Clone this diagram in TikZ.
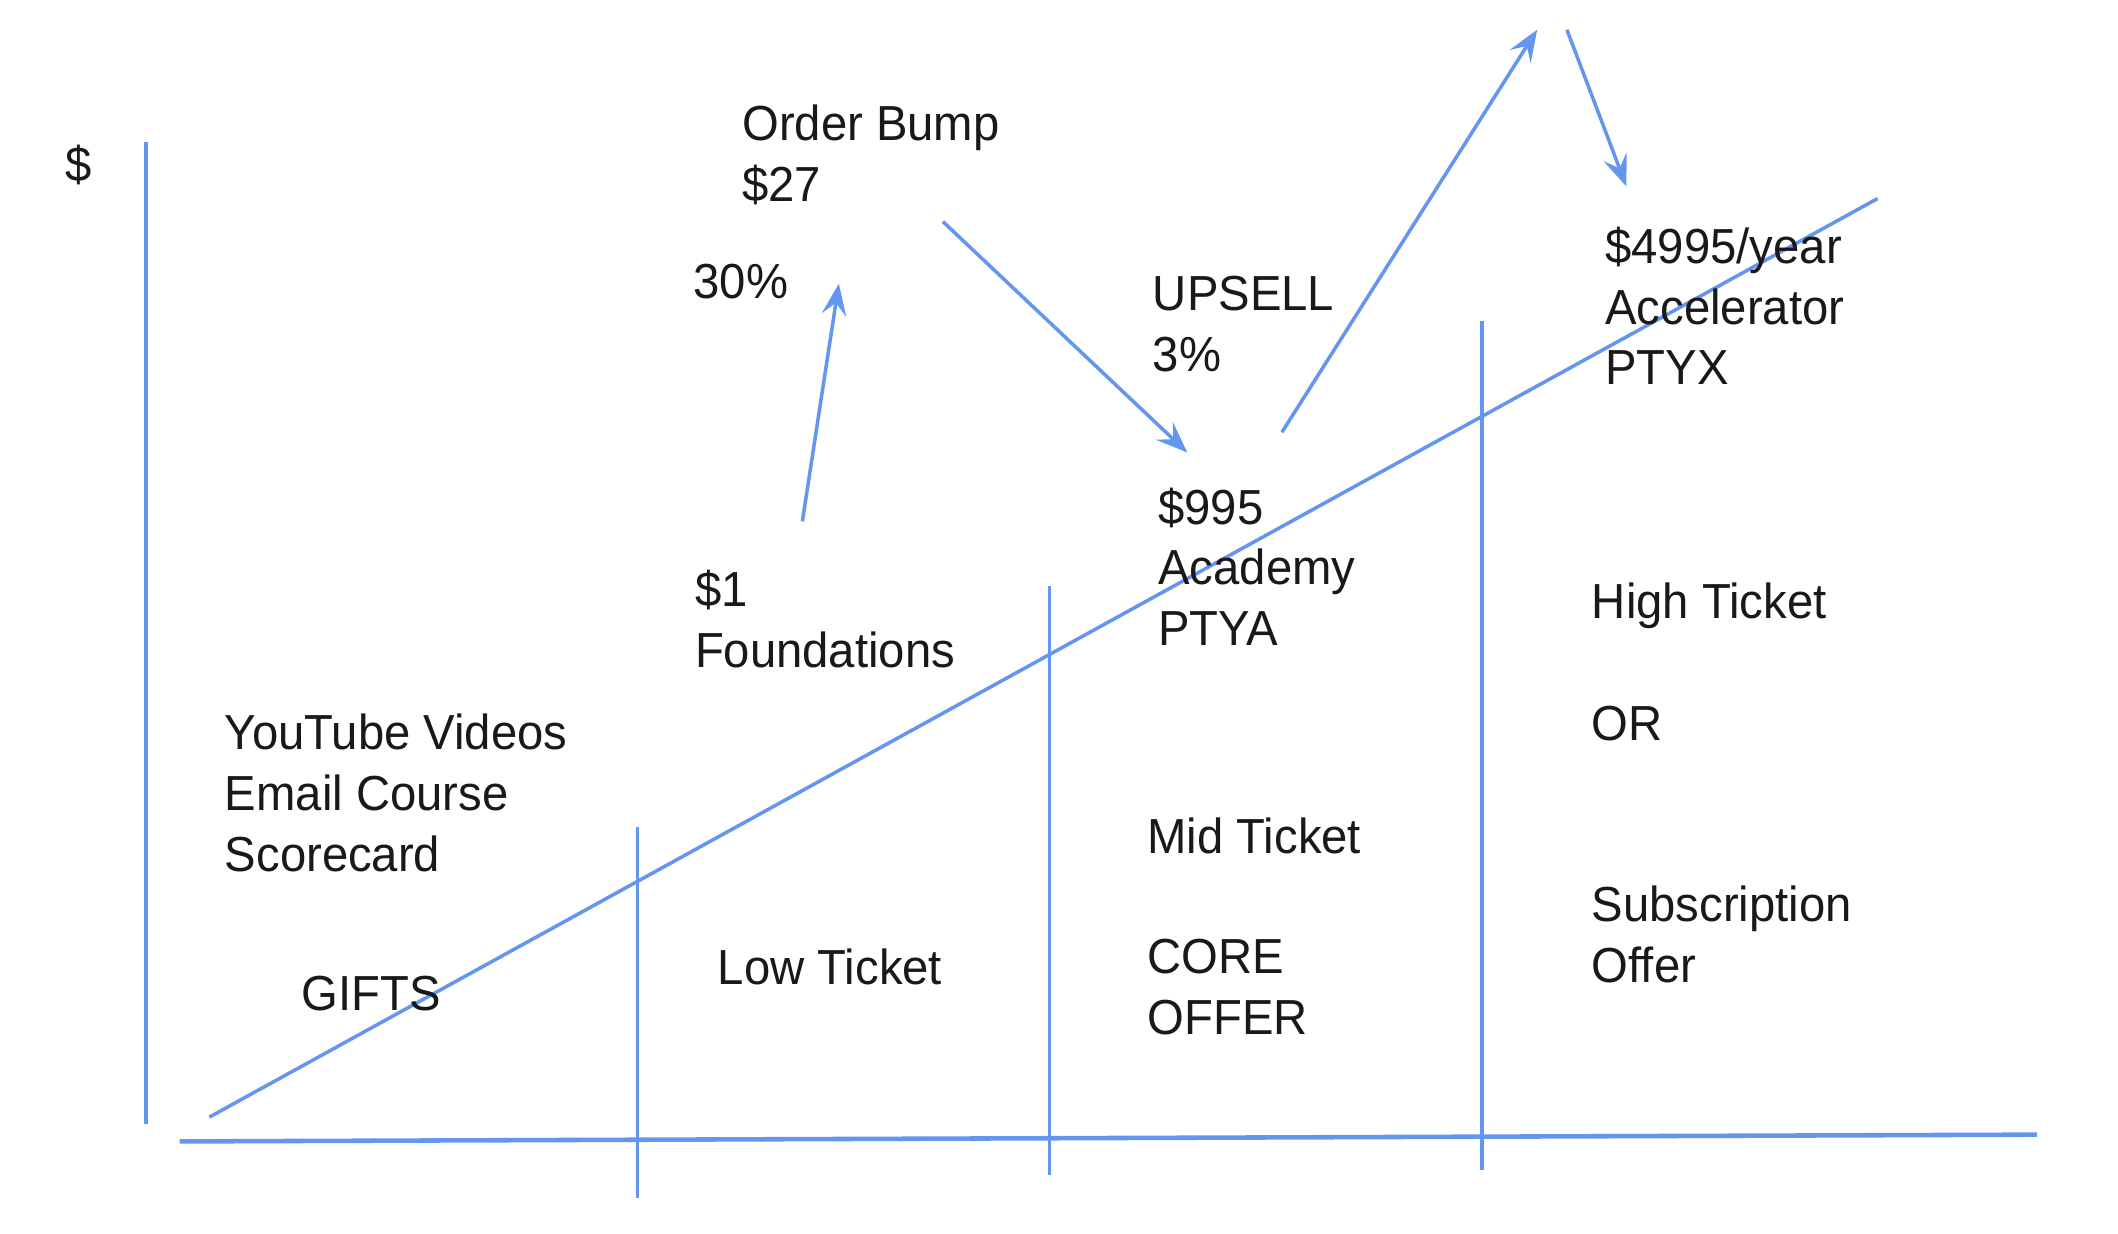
\documentclass[tikz,border=0pt]{standalone}
\usepackage{fontspec}
\setmainfont{Liberation Sans}[FakeStretch=0.96]
\usetikzlibrary{arrows.meta}
\definecolor{lb}{RGB}{100,150,240}
\definecolor{ink}{RGB}{25,25,25}
\begin{document}
\begin{tikzpicture}[x=0.013508cm,y=-0.013508cm,
  ln/.style={draw=lb,line width=1pt},
  arr/.style={ln,-{Stealth[length=9pt,width=7pt,inset=3.5pt]}},
  lbl/.style={font=\fontsize{14}{17.3}\selectfont,anchor=base west,align=left,inner sep=0pt,text=ink}]
\useasboundingbox[fill=white] (0,0) rectangle (1568,913.5);
% axes
\coordinate (yTop) at (108,105);
\coordinate (yBot) at (108,832);
\coordinate (xL) at (133,845);
\coordinate (xR) at (1508,840);
\draw[ln] (yTop) -- (yBot);
\draw[ln,line width=1.3pt] (xL) -- (xR);
% diagonal
\coordinate (dA) at (155,827);
\coordinate (dB) at (1390,147);
\draw[ln] (dA) -- (dB);
% dividers
\coordinate (v1t) at (472,612); \coordinate (v1b) at (472,887);
\coordinate (v2t) at (777,434); \coordinate (v2b) at (777,870);
\coordinate (v3t) at (1097,238); \coordinate (v3b) at (1097,866);
\draw[ln] (v1t) -- (v1b);
\draw[ln] (v2t) -- (v2b);
\draw[ln] (v3t) -- (v3b);
% arrows
\coordinate (a1s) at (594,386); \coordinate (a1e) at (621,210);
\coordinate (a2s) at (698,164); \coordinate (a2e) at (879,335);
\coordinate (a3s) at (949,320); \coordinate (a3e) at (1138,22);
\coordinate (a4s) at (1160,22); \coordinate (a4e) at (1204,138);
\draw[arr] (a1s) -- (a1e);
\draw[arr] (a2s) -- (a2e);
\draw[arr] (a3s) -- (a3e);
\draw[arr] (a4s) -- (a4e);
% labels (multi-line nodes: base = last line)
\node[lbl] (dollar) at (48,134) {\$};
\node[lbl] (bump) at (549,149) {Order Bump\\\$27};
\node[lbl] (p30) at (513,221) {30\%};
\node[lbl] (upsell) at (853,275) {UPSELL\\3\%};
\node[lbl] (academy) at (857,478) {\$995\\Academy\\PTYA};
\node[lbl] (found) at (514,494) {\$1\\Foundations};
\node[lbl] (accel) at (1188,285) {\$4995/year\\Accelerator\\PTYX};
\node[lbl] (high) at (1178,458) {High Ticket};
\node[lbl] (or) at (1178,548) {OR};
\node[lbl] (subs) at (1178,727) {Subscription\\Offer};
\node[lbl] (yt) at (166,645) {YouTube Videos\\Email Course\\Scorecard};
\node[lbl] (gifts) at (223,748) {GIFTS};
\node[lbl] (low) at (531,729) {Low Ticket};
\node[lbl] (mid) at (849,632) {Mid Ticket};
\node[lbl] (core) at (849,766) {CORE\\OFFER};
\end{tikzpicture}
\end{document}
